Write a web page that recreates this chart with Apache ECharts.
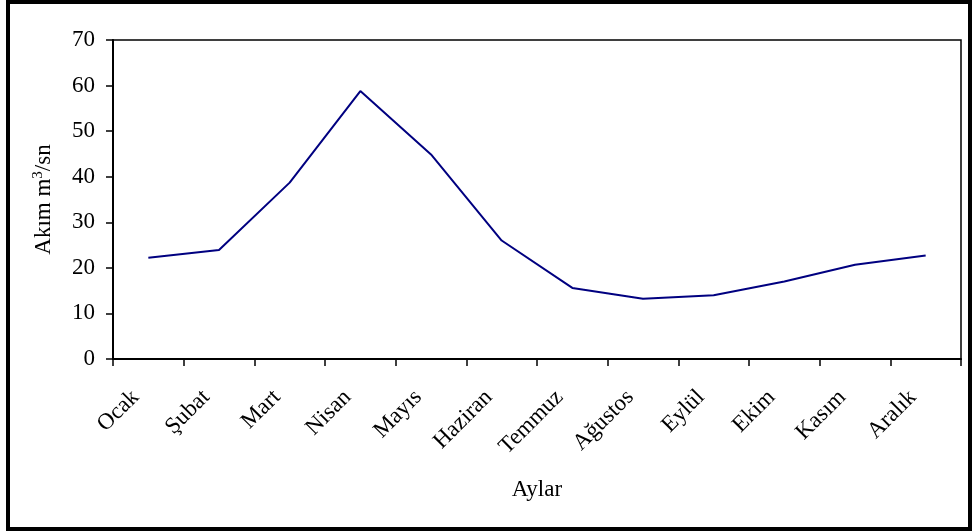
<!DOCTYPE html>
<html>
<head>
<meta charset="utf-8">
<script src="https://cdn.jsdelivr.net/npm/echarts@6/dist/echarts.min.js"></script>
<style>
  html, body { margin: 0; padding: 0; background: #fff; }
  #chart { width: 972px; height: 531px; }
</style>
</head>
<body>
<div id="chart"></div>
<script>
// Monthly mean discharge (m³/s)
const months = ['Ocak', 'Şubat', 'Mart', 'Nisan', 'Mayıs', 'Haziran', 'Temmuz', 'Ağustos', 'Eylül', 'Ekim', 'Kasım', 'Aralık'];
const flow = [22.2, 23.9, 38.7, 58.8, 44.9, 26.0, 15.6, 13.2, 14.0, 17.0, 20.7, 22.7];
const yTicks = { min: 0, max: 70, interval: 10 };

const FONT = '"Liberation Serif", "Times New Roman", serif';

const chart = echarts.init(document.getElementById('chart'), null, { renderer: 'canvas' });
chart.setOption({
  backgroundColor: '#fff',
  animation: false,
  grid: {
    left: 113, right: 11, top: 40, bottom: 172,
    show: true, borderColor: '#000', borderWidth: 1.5, backgroundColor: 'transparent'
  },
  graphic: [{
    type: 'rect',
    shape: { x: 8, y: 2, width: 962, height: 527 },
    style: { fill: null, stroke: '#000', lineWidth: 4 },
    silent: true
  }],
  xAxis: {
    type: 'category',
    data: months,
    boundaryGap: true,
    axisLine: { show: true, lineStyle: { color: '#000', width: 2 } },
    axisTick: { show: true, interval: 0, alignWithLabel: false, length: 7, lineStyle: { color: '#000', width: 1.5 } },
    axisLabel: {
      interval: 0, rotate: 45, margin: 22, padding: [0, 18, 0, 0],
      color: '#000', fontFamily: FONT, fontSize: 23
    },
    name: 'Aylar',
    nameLocation: 'middle',
    nameGap: 119,
    nameTextStyle: { color: '#000', fontFamily: FONT, fontSize: 23 }
  },
  yAxis: {
    type: 'value',
    min: yTicks.min, max: yTicks.max, interval: yTicks.interval,
    splitLine: { show: false },
    axisLine: { show: true, lineStyle: { color: '#000', width: 2 } },
    axisTick: { show: true, length: 7, lineStyle: { color: '#000', width: 1.5 } },
    axisLabel: { margin: 18, color: '#000', fontFamily: FONT, fontSize: 23 },
    name: 'Akım m{sup|3}/sn',
    nameLocation: 'middle',
    nameRotate: 90,
    nameGap: 56,
    nameTextStyle: {
      color: '#000', fontFamily: FONT, fontSize: 23,
      rich: {
        sup: { fontFamily: FONT, fontSize: 15, color: '#000', verticalAlign: 'top', padding: [0, 0, 11, 0] }
      }
    }
  },
  series: [{
    type: 'line',
    data: flow,
    showSymbol: false,
    symbol: 'none',
    lineStyle: { color: '#000080', width: 2 },
    itemStyle: { color: '#000080' }
  }]
});
</script>
</body>
</html>
